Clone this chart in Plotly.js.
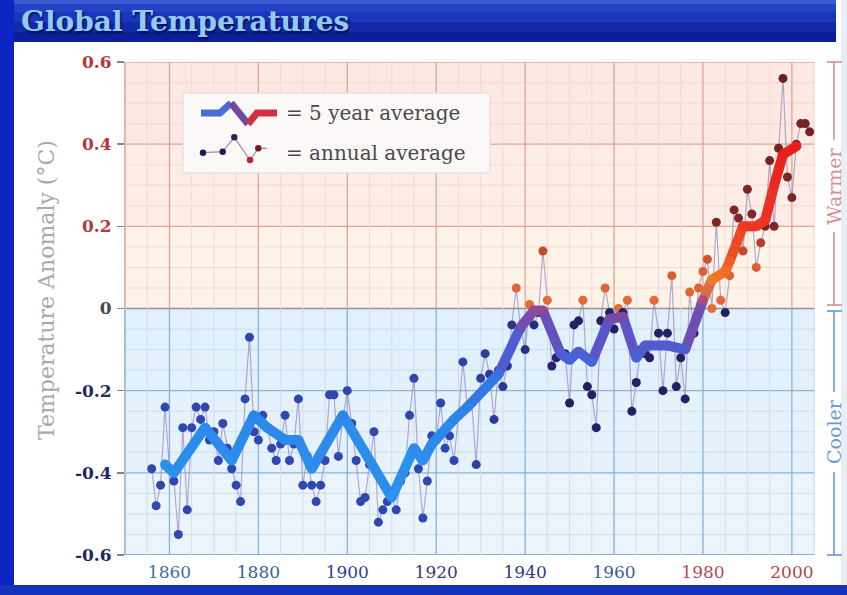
<!DOCTYPE html>
<html><head><meta charset="utf-8">
<script src="https://cdn.plot.ly/plotly-3.0.1.min.js"></script>
<style>html,body{margin:0;padding:0;background:#fff}#chart{width:847px;height:595px}</style>
</head><body><div id="chart"></div>
<script>
// ---------- DATA ----------
const annualYears = [
 1856,1857,1858,1859,1860,1861,1862,1863,1864,1865,1866,1867,1868,1869,
 1870,1871,1872,1873,1874,1875,1876,1877,1878,1879,
 1880,1881,1882,1883,1884,1885,1886,1887,1888,1889,
 1890,1891,1892,1893,1894,1895,1896,1897,1898,1899,
 1900,1901,1902,1903,1904,1905,1906,1907,1908,1909,
 1910,1911,1912,1913,1914,1915,1916,1917,1918,1919,
 1920,1921,1922,1923,1924,1925,1926,1927,1928,1929,
 1930,1931,1932,1933,1934,1935,1936,1937,1938,1939,
 1940,1941,1942,1943,1944,1945,1946,1947,1948,1949,
 1950,1951,1952,1953,1954,1955,1956,1957,1958,1959,
 1960,1961,1962,1963,1964,1965,1966,1967,1968,1969,
 1970,1971,1972,1973,1974,1975,1976,1977,1978,1979,
 1980,1981,1982,1983,1984,1985,1986,1987,1988,1989,
 1990,1991,1992,1993,1994,1995,1996,1997,1998,1999,
 2000,2001,2002,2003,2004];
const annualTemps = [
 -0.39,-0.48,-0.43,-0.24,-0.39,-0.42,-0.55,-0.29,-0.49,-0.29,-0.24,-0.27,-0.24,-0.32,
 -0.30,-0.37,-0.28,-0.34,-0.39,-0.43,-0.47,-0.22,-0.07,-0.30,
 -0.32,-0.26,-0.29,-0.34,-0.37,-0.33,-0.26,-0.37,-0.33,-0.22,
 -0.43,-0.36,-0.43,-0.47,-0.43,-0.37,-0.21,-0.21,-0.36,-0.27,
 -0.20,-0.28,-0.37,-0.47,-0.46,-0.38,-0.30,-0.52,-0.49,-0.47,
 -0.46,-0.49,-0.42,-0.40,-0.26,-0.17,-0.39,-0.51,-0.42,-0.31,
 -0.32,-0.23,-0.34,-0.31,-0.37,-0.26,-0.13,-0.24,-0.23,-0.38,
 -0.17,-0.11,-0.16,-0.27,-0.15,-0.19,-0.14,-0.04,0.05,-0.05,
 -0.10,0.01,-0.04,-0.01,0.14,0.02,-0.14,-0.12,-0.11,-0.11,
 -0.23,-0.04,-0.03,0.02,-0.19,-0.21,-0.29,-0.03,0.05,-0.01,
 -0.05,0.00,-0.01,0.02,-0.25,-0.18,-0.10,-0.11,-0.12,0.02,
 -0.06,-0.20,-0.06,0.08,-0.19,-0.12,-0.22,0.04,-0.06,0.05,
 0.09,0.12,0.00,0.21,0.02,-0.01,0.08,0.24,0.22,0.14,
 0.29,0.23,0.10,0.16,0.20,0.36,0.20,0.39,0.56,0.32,
 0.27,0.40,0.45,0.45,0.43];
const avgYears = [1859,1861,1868,1874,1879,1882,1886,1889,1892,1899,1910,1915,1917,1919,1924,1927,1934,1939,1942,1944,1948,1950,1952,1955,1959,1962,1965,1967,1972,1976,1980,1982,1985,1986,1989,1992,1994,1996,1998,2001];
const avgTemps = [-0.38,-0.40,-0.29,-0.37,-0.26,-0.29,-0.32,-0.32,-0.39,-0.26,-0.46,-0.34,-0.37,-0.33,-0.27,-0.24,-0.16,-0.045,-0.005,-0.005,-0.11,-0.125,-0.105,-0.13,-0.025,-0.02,-0.12,-0.09,-0.09,-0.10,0.02,0.07,0.09,0.115,0.20,0.20,0.215,0.30,0.375,0.395];
const xTickYears = [1860,1880,1900,1920,1940,1960,1980,2000];
const xTickColors = ['#3d6ea8','#3b5e9c','#2f3f8c','#39397f','#34378a','#3e5a98','#b24a5c','#b2464a'];
const yTickVals = [0.6,0.4,0.2,0,-0.2,-0.4,-0.6];
const yTickLabels = ['0.6','0.4','0.2','0','-0.2','-0.4','-0.6'];
const yTickColors = ['#b5383a','#b5383a','#b5383a','#4a4a4a','#1f2a5c','#1f2a5c','#1f2a5c'];

// ---------- helpers ----------
const L=125, R=815, T=62, B=555;
const px = x => (x-L)/(R-L);
const py = y => (B-y)/(B-T);
function mix(a,b,t){return a.map((v,i)=>Math.round(v+(b[i]-v)*t));}
function fromStops(stops,v){
  if(v<=stops[0][0]) return stops[0][1];
  for(let i=1;i<stops.length;i++){
    if(v<=stops[i][0]){const t=(v-stops[i-1][0])/(stops[i][0]-stops[i-1][0]);return mix(stops[i-1][1],stops[i][1],t);}
  }
  return stops[stops.length-1][1];
}
const rgb = c => `rgb(${c[0]},${c[1]},${c[2]})`;
const lineStops = [[-0.5,[44,150,240]],[-0.25,[44,134,234]],[-0.15,[58,108,222]],[-0.08,[88,86,202]],[-0.02,[122,72,168]],[0.02,[170,78,125]],[0.06,[240,130,40]],[0.12,[240,92,35]],[0.2,[236,55,35]],[0.4,[230,30,30]]];
const warmStops = [[0,[228,108,58]],[0.1,[222,92,52]],[0.15,[190,70,45]],[0.2,[128,40,38]],[0.6,[110,30,30]]];
function markerColor(yr,v){
  if(v<0){const t=Math.min(1,Math.max(0,(yr-1925)/25));return rgb(mix([48,70,176],[36,32,100],t));}
  return rgb(fromStops(warmStops,v));
}

// ---------- traces ----------
const traces = [];
traces.push({x:annualYears,y:annualTemps,type:'scatter',mode:'lines+markers',
  line:{color:'rgba(140,128,190,0.65)',width:1.2},
  marker:{size:9,color:annualYears.map((yr,i)=>markerColor(yr,annualTemps[i]))},
  hoverinfo:'skip',showlegend:false});
for(let i=0;i<avgYears.length-1;i++){
  const c = rgb(fromStops(lineStops,(avgTemps[i]+avgTemps[i+1])/2));
  traces.push({x:[avgYears[i],avgYears[i+1]],y:[avgTemps[i],avgTemps[i+1]],type:'scatter',mode:'lines',
    line:{color:c,width:10},hoverinfo:'skip',showlegend:false});
}
traces.push({x:avgYears,y:avgTemps,type:'scatter',mode:'markers',
  marker:{size:10,color:avgTemps.map(v=>rgb(fromStops(lineStops,v)))},hoverinfo:'skip',showlegend:false});

// ---------- shapes ----------
const shapes = [];
const rectP = (x0,y0,x1,y1,fill,layer)=>({type:'rect',xref:'paper',yref:'paper',x0:px(x0),x1:px(x1),y0:py(y1),y1:py(y0),fillcolor:fill,line:{width:0},layer:layer||'below'});
// frame
shapes.push(rectP(841,0,847,595,'#e9eef6'));
shapes.push(rectP(0,0,836,4,'#3a58d0'));
shapes.push(rectP(0,4,836,12,'#2442c6'));
shapes.push(rectP(0,12,836,22,'#1b36b8'));
shapes.push(rectP(0,22,836,32,'#1329a8'));
shapes.push(rectP(0,32,836,42,'#0c1e98'));
shapes.push(rectP(0,0,14,595,'#0b26c2'));
shapes.push(rectP(0,585,847,595,'#1432bc'));
// plot background bands
const bands = [[0.4,0.6,'#fde8e3'],[0.2,0.4,'#fdede6'],[0,0.2,'#fdf3e9'],[-0.2,0,'#e2f0fb'],[-0.4,-0.2,'#e6f2fb'],[-0.6,-0.4,'#ecf4fb']];
bands.forEach(b=>shapes.push({type:'rect',xref:'paper',yref:'y',x0:0,x1:1,y0:b[0],y1:b[1],fillcolor:b[2],line:{width:0},layer:'below'}));
// grid
for(let yr=1850;yr<=2005;yr+=5){
  const major = yr%20===0;
  shapes.push({type:'line',xref:'x',yref:'y',x0:yr,x1:yr,y0:0,y1:0.6,line:{color:major?'#e2a494':'#f5d6ca',width:major?1.3:0.9},layer:'below'});
  shapes.push({type:'line',xref:'x',yref:'y',x0:yr,x1:yr,y0:-0.6,y1:0,line:{color:major?'#86b4d6':'#c6def0',width:major?1.3:0.9},layer:'below'});
}
for(let k=-12;k<=12;k++){
  const v=k*0.05, major=k%4===0;
  let col, w;
  if(k===0){col='#9a8c94';w=1.6;}
  else if(v>0){col=major?'#e2a494':'#f5d6ca';w=major?1.3:0.9;}
  else {col=major?'#86b4d6':'#c6def0';w=major?1.3:0.9;}
  shapes.push({type:'line',xref:'paper',yref:'y',x0:0,x1:1,y0:v,y1:v,line:{color:col,width:w},layer:'below'});
}
// axis lines
shapes.push({type:'line',xref:'paper',yref:'y',x0:0,x1:0,y0:0,y1:0.6,line:{color:'#d69488',width:1.5},layer:'below'});
shapes.push({type:'line',xref:'paper',yref:'y',x0:0,x1:0,y0:-0.6,y1:0,line:{color:'#7ea6cc',width:1.5},layer:'below'});
shapes.push({type:'line',xref:'paper',yref:'y',x0:0,x1:1,y0:-0.6,y1:-0.6,line:{color:'#7ea6cc',width:1.5},layer:'below'});
// warmer / cooler brackets
const lineP=(x0,y0,x1,y1,col,w)=>({type:'line',xref:'paper',yref:'paper',x0:px(x0),x1:px(x1),y0:py(y0),y1:py(y1),line:{color:col,width:w||1.5}});
const warmC='#d2878a', coolC='#5a8fd0';
shapes.push(lineP(834,62,834,140,warmC));
shapes.push(lineP(834,232,834,305,warmC));
shapes.push(lineP(827,62,842,62,warmC));
shapes.push(lineP(827,305,842,305,warmC));
shapes.push(lineP(834,311,834,392,coolC));
shapes.push(lineP(834,472,834,555,coolC));
shapes.push(lineP(827,311,842,311,coolC));
shapes.push(lineP(827,555,842,555,coolC));
// legend box and glyphs
shapes.push(Object.assign(rectP(183,93,490,173,'#fbf8f7','above'),{line:{color:'#e2dada',width:1}}));
const pathP = pts => 'M'+pts.map(p=>px(p[0])+','+py(p[1])).join(' L');
shapes.push({type:'path',xref:'paper',yref:'paper',path:pathP([[201,113],[220,113],[231,103]]),line:{color:'#4a6cd6',width:7},layer:'above'});
shapes.push({type:'path',xref:'paper',yref:'paper',path:pathP([[231,103],[248,124]]),line:{color:'#7048a8',width:7},layer:'above'});
shapes.push({type:'path',xref:'paper',yref:'paper',path:pathP([[248,124],[257,113],[277,113]]),line:{color:'#d33044',width:7},layer:'above'});
shapes.push({type:'path',xref:'paper',yref:'paper',path:pathP([[203,152.7],[222.7,151.7],[234.3,137.3],[250,160],[258.3,148.3],[267,148.3]]),line:{color:'#9a90b0',width:1.2},layer:'above'});
[[203,152.7,'#1a1a5e'],[222.7,151.7,'#1a1a5e'],[234.3,137.3,'#3a1a50'],[250,160,'#c42234'],[258.3,148.3,'#7a1a22']].forEach(p=>{
  shapes.push({type:'circle',xref:'paper',yref:'paper',x0:px(p[0]-3.2),x1:px(p[0]+3.2),y0:py(p[1]+3.2),y1:py(p[1]-3.2),fillcolor:p[2],line:{width:0},layer:'above'});
});

// ---------- annotations ----------
const ann = [];
const annP=(x,y,text,font,extra)=>Object.assign({xref:'paper',yref:'paper',x:px(x),y:py(y),text:text,showarrow:false,font:font},extra||{});
ann.push(annP(19,22,'<b>Global Temperatures</b>',{family:'DejaVu Serif',size:28,color:'#92caf4',shadow:'1px 2px 2px #030a48'},{xanchor:'left',yanchor:'middle'}));
ann.push(annP(46,290,'Temperature Anomaly (°C)',{family:'DejaVu Serif',size:22,color:'#a9a9a9'},{textangle:-90,xanchor:'center',yanchor:'middle'}));
ann.push(annP(834,186,'Warmer',{family:'DejaVu Serif',size:19,color:'#d39196'},{textangle:-90,xanchor:'center',yanchor:'middle'}));
ann.push(annP(834,432,'Cooler',{family:'DejaVu Serif',size:19,color:'#6b9ad2'},{textangle:-90,xanchor:'center',yanchor:'middle'}));
ann.push(annP(284,113,'= 5 year average',{family:'DejaVu Serif',size:20,color:'#4a4a4a'},{xanchor:'left',yanchor:'middle'}));
ann.push(annP(284,153,'= annual average',{family:'DejaVu Serif',size:20,color:'#4a4a4a'},{xanchor:'left',yanchor:'middle'}));

// ---------- layout ----------
const layout = {
  width:847,height:595,
  margin:{l:L,r:847-R,t:T,b:595-B,pad:0},
  paper_bgcolor:'#ffffff',plot_bgcolor:'rgba(0,0,0,0)',
  font:{family:'DejaVu Serif'},
  showlegend:false,
  xaxis:{range:[1850,2005.2],showgrid:false,zeroline:false,showline:false,ticks:'',
    tickvals:xTickYears,ticktext:xTickYears.map((y,i)=>`<span style="color:${xTickColors[i]}">${y}</span>`),
    tickfont:{family:'DejaVu Serif',size:17},ticklabelstandoff:5},
  yaxis:{range:[-0.6,0.6],showgrid:false,zeroline:false,showline:false,ticks:'outside',ticklen:7,tickwidth:1.5,tickcolor:'#8a7f90',
    tickvals:yTickVals,ticktext:yTickLabels.map((t,i)=>`<span style="color:${yTickColors[i]}"><b>${t}</b></span>`),
    tickfont:{family:'DejaVu Serif',size:17},ticklabelstandoff:2},
  shapes:shapes,annotations:ann
};
Plotly.newPlot('chart',traces,layout,{displayModeBar:false,staticPlot:true});
</script></body></html>
